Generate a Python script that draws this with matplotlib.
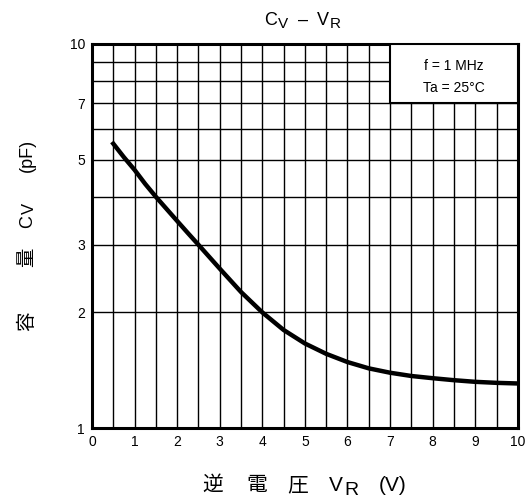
import matplotlib
matplotlib.use("Agg")
import matplotlib.pyplot as plt
from matplotlib.patches import Rectangle
from matplotlib.ticker import FixedLocator, NullFormatter

plt.rcParams['font.family'] = ['Liberation Sans', 'Noto Sans CJK JP']

# curve
vr = [0.5, 0.75, 1, 1.25, 1.5, 1.75, 2, 2.25, 2.5, 3, 3.5, 4, 4.5, 5,
      5.5, 6, 6.5, 7, 7.5, 8, 8.5, 9, 9.5, 10]
cv = [5.5, 5.07, 4.7, 4.32, 4.0, 3.72, 3.46, 3.22, 3.0, 2.6, 2.26, 2.0, 1.80, 1.66,
      1.56, 1.485, 1.43, 1.393, 1.366, 1.348, 1.332, 1.319, 1.311, 1.306]

x_ticks = list(range(0, 11))
x_grid = [i * 0.5 for i in range(21)]
y_ticks = [1, 2, 3, 5, 7, 10]
y_grid = [4, 6, 8, 9]

W, H = 530, 501
fig = plt.figure(figsize=(W / 100, H / 100), dpi=100)
ax = fig.add_axes([0.1736, 0.1457, 0.8034, 0.7665])

ax.set_yscale('log')
ax.set_xlim(0, 10)
ax.set_ylim(1, 10)

ax.xaxis.set_major_locator(FixedLocator(x_ticks))
ax.xaxis.set_minor_locator(FixedLocator(x_grid))
ax.yaxis.set_major_locator(FixedLocator(y_ticks))
ax.yaxis.set_minor_locator(FixedLocator(y_grid))
ax.set_xticklabels([str(t) for t in x_ticks])
ax.set_yticklabels([str(t) for t in y_ticks])
ax.xaxis.set_minor_formatter(NullFormatter())
ax.yaxis.set_minor_formatter(NullFormatter())
ax.tick_params(which='both', length=0, labelsize=10, pad=5)

ax.grid(True, which='both', color='black', linewidth=1.0)
ax.set_axisbelow(True)
for s in ax.spines.values():
    s.set_linewidth(2.2)

ax.plot(vr, cv, color='black', linewidth=3.2, zorder=3)

# condition box in the upper right corner
ax.add_patch(Rectangle((7, 7), 3, 3, facecolor='white', edgecolor='black',
                       linewidth=1.5, zorder=4))
ax.text(8.5, 8.75, 'f = 1 MHz', ha='center', va='center', fontsize=10, zorder=5)
ax.text(8.5, 7.7, 'Ta = 25°C', ha='center', va='center', fontsize=10, zorder=5)


def ftext(px, py, s, **kw):
    fig.text(px / W, 1 - py / H, s, **kw)


cjk = ['Noto Sans CJK JP', 'Liberation Sans']

# title, subscripts drawn as separate pieces
ftext(264, 25, 'C', fontsize=13, ha='left', va='baseline')
ftext(278, 28, 'V', fontsize=11, ha='left', va='baseline')
ftext(303, 25, '–', fontsize=13, ha='center', va='baseline')
ftext(317, 25, 'V', fontsize=13, ha='left', va='baseline')
ftext(330, 28, 'R', fontsize=11, ha='left', va='baseline')

# x label
xb = 491
ftext(213, xb, '逆', family=cjk, fontsize=15, ha='center', va='baseline')
ftext(257, xb, '電', family=cjk, fontsize=15, ha='center', va='baseline')
ftext(298, xb, '圧', family=cjk, fontsize=15, ha='center', va='baseline')
ftext(329, xb, 'V', fontsize=15, ha='left', va='baseline')
ftext(344, xb + 4, 'R', fontsize=14, ha='left', va='baseline')
ftext(379, xb, '(V)', fontsize=15, ha='left', va='baseline')

# y label, rotated pieces
yb = 32
rot = dict(rotation=90, rotation_mode='anchor', ha='center', va='baseline')
ftext(yb, 321, '容', family=cjk, fontsize=14, **rot)
ftext(yb, 257, '量', family=cjk, fontsize=14, **rot)
ftext(yb, 222, 'C', fontsize=13, **rot)
ftext(yb + 2, 208, 'V', fontsize=12, **rot)
ftext(yb, 155, '(pF)', fontsize=13, **rot)

fig.savefig('out.png', dpi=100)
